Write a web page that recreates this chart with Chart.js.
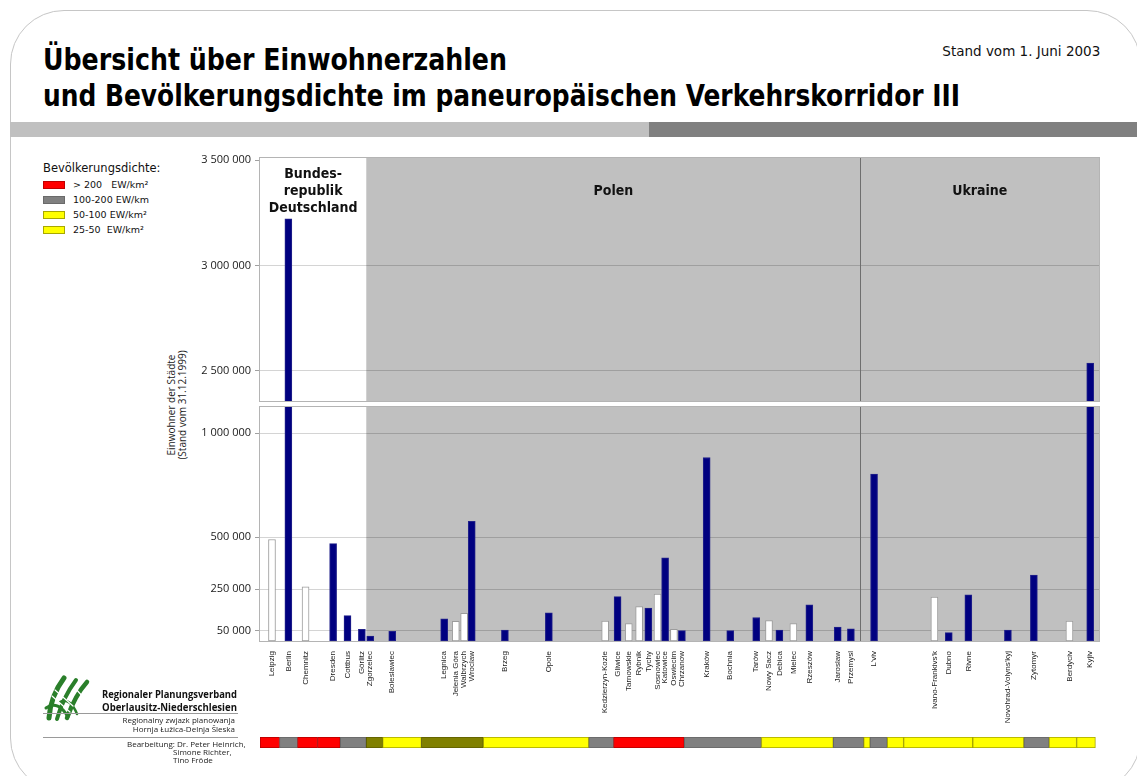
<!DOCTYPE html>
<html lang="de">
<head>
<meta charset="utf-8">
<title>Übersicht über Einwohnerzahlen und Bevölkerungsdichte</title>
<script src="https://cdn.jsdelivr.net/npm/chart.js@4.4.1/dist/chart.umd.min.js"></script>
<style>
  html, body { margin: 0; padding: 0; background: #fff; }
  body { position: relative; width: 1137px; height: 776px; overflow: hidden;
         font-family: "Open Sans", "DejaVu Sans", sans-serif; color: #111; }
  .abs { position: absolute; white-space: nowrap; }
  .frame { left: 10px; top: 10px; width: 1131px; height: 782px; border: 1px solid #c6c6c6;
           border-radius: 54px; box-sizing: border-box; }
  .cond { font-family: "DejaVu Sans Condensed", "DejaVu Sans", sans-serif; }
  .title { font-weight: bold; font-size: 30px; line-height: 36px; color: #000; transform-origin: 0 50%; }
  .stand { font-size: 14px; line-height: 16px; transform-origin: 100% 50%; }
  .band { top: 122px; height: 15px; }
  canvas { position: absolute; }
  .legend-title { left: 43px; top: 159px; font-family: "DejaVu Sans", sans-serif; font-size: 11.5px; line-height: 18px; }
  .legend-item { left: 43px; font-family: "DejaVu Sans", sans-serif; font-size: 9.5px; line-height: 12px; white-space: pre; }
  .legend-item i { display: inline-block; width: 20px; height: 6px; border: 1px solid; vertical-align: middle;
                   margin-right: 8px; position: relative; top: -1px; }
  .ytitle { left: 177px; top: 405px; transform: translate(-50%, -50%) rotate(-90deg); text-align: center;
            font-size: 10px; line-height: 11px; color: #222; }
  .org { font-weight: bold; font-size: 10px; line-height: 12px; color: #111; transform-origin: 0 50%; }
  .small { font-size: 8px; line-height: 9px; color: #222; }
  .rule { height: 1px; background: #9a9a9a; left: 43px; width: 195px; }
</style>
</head>
<body>
<div class="abs frame"></div>

<div class="abs cond title" style="left:43px;top:42px" data-fit="464">Übersicht über Einwohnerzahlen</div>
<div class="abs cond title" style="left:43px;top:78px" data-fit="917">und Bevölkerungsdichte im paneuropäischen Verkehrskorridor III</div>
<div class="abs cond stand" style="right:37px;top:43px" data-fit="158">Stand vom 1. Juni 2003</div>

<div class="abs band" style="left:10px;width:639px;background:#c0c0c0"></div>
<div class="abs band" style="left:649px;width:488px;background:#808080"></div>

<div class="abs legend-title">Bevölkerungsdichte:</div>
<div class="abs legend-item" style="top:179px"><i style="background:#ff0000;border-color:#c00000"></i>&gt; 200   EW/km²</div>
<div class="abs legend-item" style="top:194px"><i style="background:#808080;border-color:#6a6a6a"></i>100-200 EW/km</div>
<div class="abs legend-item" style="top:209px"><i style="background:#ffff00;border-color:#a8a800"></i>50-100 EW/km²</div>
<div class="abs legend-item" style="top:224px"><i style="background:#ffff00;border-color:#a8a800"></i>25-50  EW/km²</div>

<div class="abs ytitle">Einwohner der Städte<br>(Stand vom 31.12.1999)</div>

<canvas id="upper" width="952" height="253" style="left:150px;top:150px"></canvas>
<canvas id="lower" width="952" height="330" style="left:150px;top:400px"></canvas>
<canvas id="strip" width="952" height="19" style="left:150px;top:733px"></canvas>

<!-- Verbandslogo -->
<svg class="abs" style="left:40px;top:672px" width="56" height="54" viewBox="0 0 56 54">
  <g fill="none" stroke="#2a7f2a" stroke-linecap="round">
    <path d="M9 46 C10 32 15 18 24 6" stroke-width="5"/>
    <path d="M17 47 C21 33 27 20 36 8" stroke-width="4"/>
    <path d="M27 46 C32 32 38 20 47 10" stroke-width="4.5"/>
    <path d="M6 36 C14 30 22 34 28 45" stroke-width="3"/>
    <path d="M20 30 C27 26 33 32 37 42" stroke-width="2.5"/>
    <path d="M12 24 L30 40 M15 18 L33 34 M35 16 L44 26" stroke="#fff" stroke-width="1.2"/>
  </g>
</svg>
<div class="abs org" style="left:102px;top:688px" data-fit="135">Regionaler Planungsverband</div>
<div class="abs org" style="left:102px;top:701px" data-fit="135">Oberlausitz-Niederschlesien</div>
<div class="abs rule" style="top:713px"></div>
<div class="abs small" style="right:902px;top:715px">Regionalny zwjazk planowanja</div>
<div class="abs small" style="right:902px;top:724px">Hornja Łužica-Delnja Šleska</div>
<div class="abs rule" style="top:737px"></div>
<div class="abs small" style="left:127px;top:739px">Bearbeitung: Dr. Peter Heinrich,</div>
<div class="abs small" style="left:173px;top:747px">Simone Richter,</div>
<div class="abs small" style="left:173px;top:755px">Tino Fröde</div>

<script>
// Städte entlang des Korridors, von West nach Ost
const cities = ['Leipzig', 'Berlin', 'Chemnitz', 'Dresden', 'Cottbus', 'Görlitz', 'Zgorzelec', 'Boleslawiec',
  'Legnica', 'Jelenia Góra', 'Walbrzych', 'Wroclaw', 'Brzeg', 'Opole', 'Kedzierzyn-Kozle', 'Gliwice',
  'Tarnowskie', 'Rybnik', 'Tychy', 'Sosnowiec', 'Katowice', 'Oswiecim', 'Chrzanow', 'Kraków', 'Bochnia',
  'Tarów', 'Nowy Sacz', 'Debica', 'Mielec', 'Rzeszów', 'Jaroslaw', 'Przemysl', "L'viv", "Ivano-Frankivs'k",
  'Dubno', 'Rivne', "Novohrad-Volyns'kyj", 'Zytomyr', 'Berdyciv', 'Kyjiv'];

// Lage der Städte auf der schematischen Korridorachse (0 … 210)
const corridorPos = [3.0, 7.1, 11.4, 18.3, 21.9, 25.5, 27.6, 33.1, 46.1, 49.0, 51.1, 53.0, 61.3, 72.3,
  86.4, 89.5, 92.3, 94.9, 97.2, 99.5, 101.4, 103.6, 105.6, 111.8, 117.7, 124.2, 127.4, 130.0, 133.5,
  137.5, 144.6, 147.9, 153.7, 168.8, 172.4, 177.3, 187.2, 193.7, 202.6, 207.8];

// Einwohner (Stand 31.12.1999)
const population = [488000, 3222000, 261000, 468000, 122000, 56000, 24000, 46000, 107000, 95000,
  133000, 575000, 53000, 135000, 96000, 213000, 84000, 165000, 158000, 225000, 400000, 56000, 50000,
  882000, 50000, 113000, 98000, 53000, 84000, 174000, 67000, 58000, 802000, 211000, 40000, 222000,
  53000, 317000, 96000, 2537000];

// dunkle Säule = Stadt an der Hauptachse, helle Säule = Stadt daneben
const mainCity = [false, true, false, true, true, true, true, true, true, false, false, true, true, true,
  false, true, false, false, true, false, true, false, true, true, true, true, false, true, false, true,
  true, true, true, false, true, true, true, true, false, true];

// Staaten und ihre Grenzen auf der Korridorachse
const countries = [['Bundes-', 'republik', 'Deutschland'], ['Polen'], ['Ukraine']];
const countryBounds = [0, 26.6, 150.3, 210];

// Achsenbeschriftung der beiden Teilbereiche (unterbrochene Achse)
const upperTicks = [2500000, 3000000, 3500000];
const lowerTicks = [50000, 250000, 500000, 1000000];

// Bevölkerungsdichte entlang des Korridors
const densityBounds = [0, 4.9, 9.4, 14.4, 20.1, 26.6, 30.7, 40.4, 55.9, 82.3, 88.5, 106.2, 125.5,
  143.5, 151.1, 152.7, 157.0, 161.1, 178.4, 191.2, 197.5, 204.4, 209.1];
const densityClass = ['>200', '100-200', '>200', '>200', '100-200', '50-100', '25-50', '50-100', '25-50',
  '100-200', '>200', '100-200', '25-50', '100-200', '25-50', '100-200', '25-50', '25-50', '25-50',
  '100-200', '25-50', '25-50'];

// ---- Darstellung ----
const AXIS_MIN = 0, AXIS_MAX = 210;
const UPPER_MIN = 2357500, UPPER_MAX = 3511000, LOWER_MAX = 1125000;
const Y_AXIS_WIDTH = 110;
const NAVY = '#000080';
const zoneFill = ['#ffffff', '#c0c0c0', '#c0c0c0'];
const densityFill = { '>200': '#ff0000', '100-200': '#808080', '50-100': '#808000', '25-50': '#ffff00' };
const densityEdge = { '>200': '#b00000', '100-200': '#666666', '50-100': '#5c5c00', '25-50': '#a4a400' };
const tickFont = { family: '"Open Sans", "DejaVu Sans", sans-serif', size: 11 };
const nameFont = { family: '"Liberation Sans", Arial, sans-serif', size: 8 };
const zoneFont = 'bold 14px "DejaVu Sans Condensed", "DejaVu Sans", sans-serif';

const fmt = v => String(v).replace(/\B(?=(\d{3})+(?!\d))/g, ' ');

// fit headline texts to their set widths
document.querySelectorAll('[data-fit]').forEach(el => {
  const w = el.getBoundingClientRect().width;
  el.style.transform = 'scaleX(' + (Number(el.dataset.fit) / w) + ')';
});

// backgrounds of the country zones, separators and plot frame
const zonesPlugin = {
  id: 'zones',
  beforeDraw(chart) {
    const { ctx, chartArea: a, scales: { x } } = chart;
    ctx.save();
    for (let i = 0; i < countries.length; i++) {
      const x0 = x.getPixelForValue(countryBounds[i]);
      const x1 = x.getPixelForValue(countryBounds[i + 1]);
      ctx.fillStyle = zoneFill[i];
      ctx.fillRect(x0, a.top, x1 - x0, a.bottom - a.top);
    }
    ctx.restore();
  },
  beforeDatasetsDraw(chart) {
    const { ctx, chartArea: a, scales: { x } } = chart;
    ctx.save();
    ctx.lineWidth = 1;
    ctx.strokeStyle = '#6e6e6e';
    for (let i = 1; i < countries.length; i++) {
      if (zoneFill[i] !== zoneFill[i - 1]) continue;
      const px = Math.round(x.getPixelForValue(countryBounds[i])) + 0.5;
      ctx.beginPath();
      ctx.moveTo(px, a.top);
      ctx.lineTo(px, a.bottom);
      ctx.stroke();
    }
    ctx.strokeStyle = '#b4b4b4';
    ctx.strokeRect(a.left - 0.5, a.top - 0.5, a.right - a.left + 1, a.bottom - a.top + 1);
    ctx.restore();
  }
};

// country names at the top of the upper panel
const countryNamesPlugin = {
  id: 'countryNames',
  afterDatasetsDraw(chart) {
    const { ctx, chartArea: a, scales: { x } } = chart;
    ctx.save();
    ctx.font = zoneFont;
    ctx.fillStyle = '#111';
    ctx.textAlign = 'center';
    ctx.textBaseline = 'middle';
    const lineH = 17, centerY = a.top + 33;
    countries.forEach((lines, i) => {
      const cx = (x.getPixelForValue(countryBounds[i]) + x.getPixelForValue(countryBounds[i + 1])) / 2;
      const y0 = centerY - (lines.length - 1) * lineH / 2;
      lines.forEach((t, k) => ctx.fillText(t, cx, y0 + k * lineH));
    });
    ctx.restore();
  }
};

function yScale(min, max, ticks, noGrid) {
  return {
    type: 'linear', min, max,
    afterBuildTicks: s => { s.ticks = ticks.map(value => ({ value })); },
    afterFit: s => { s.width = Y_AXIS_WIDTH; s.paddingTop = 0; s.paddingBottom = 0; },
    border: { display: false },
    grid: {
      color: c => (c.tick && noGrid.includes(c.tick.value)) ? 'rgba(0,0,0,0)' : 'rgba(0,0,0,0.17)',
      tickColor: '#a0a0a0', tickLength: 5, drawTicks: true
    },
    ticks: { color: '#1a1a1a', padding: 4, font: tickFont, callback: v => fmt(v) }
  };
}

const barColors = mainCity.map(m => m ? NAVY : '#ffffff');
const barEdges = mainCity.map(m => m ? '#22228a' : '#9c9c9c');

function barDataset(values) {
  return {
    data: corridorPos.map((p, i) => ({ x: p, y: values[i] })),
    backgroundColor: barColors,
    borderColor: barEdges,
    borderWidth: 1,
    borderSkipped: false,
    barThickness: 7,
    clip: 0
  };
}

const common = {
  responsive: false,
  animation: false,
  events: [],
  plugins: { legend: { display: false }, tooltip: { enabled: false } }
};

// oberer Teil: Großstädte über 2,35 Mio. Einwohner
new Chart(document.getElementById('upper'), {
  type: 'bar',
  data: { datasets: [barDataset(population.map(v => v > UPPER_MIN ? v : null))] },
  options: {
    ...common,
    layout: { padding: { top: 8, right: 3, bottom: 2, left: 0 } },
    scales: {
      x: { type: 'linear', min: AXIS_MIN, max: AXIS_MAX, offset: false, display: false },
      y: yScale(UPPER_MIN, UPPER_MAX, upperTicks, [3500000])
    }
  },
  plugins: [zonesPlugin, countryNamesPlugin]
});

// unterer Teil: 0 bis 1,1 Mio. Einwohner, mit Städtenamen
new Chart(document.getElementById('lower'), {
  type: 'bar',
  data: { datasets: [barDataset(population)] },
  options: {
    ...common,
    layout: { padding: { top: 7, right: 3, bottom: 0, left: 0 } },
    scales: {
      x: {
        type: 'linear', min: AXIS_MIN, max: AXIS_MAX, offset: false,
        afterBuildTicks: s => { s.ticks = corridorPos.map(value => ({ value })); },
        afterFit: s => { s.height = 89; s.paddingLeft = 0; s.paddingRight = 0; },
        grid: { display: false, drawTicks: false },
        border: { display: false },
        ticks: {
          autoSkip: false, minRotation: 90, maxRotation: 90, padding: 10,
          color: '#222', font: nameFont,
          callback: (v, i) => cities[i]
        }
      },
      y: yScale(0, LOWER_MAX, lowerTicks, [])
    }
  },
  plugins: [zonesPlugin]
});

// Band der Bevölkerungsdichte
new Chart(document.getElementById('strip'), {
  type: 'bar',
  data: {
    labels: ['Dichte'],
    datasets: [{
      data: densityClass.map((c, i) => ({ y: 'Dichte', x: [densityBounds[i], densityBounds[i + 1]] })),
      backgroundColor: densityClass.map(c => densityFill[c]),
      borderColor: densityClass.map(c => densityEdge[c]),
      borderWidth: 1,
      borderSkipped: false,
      barPercentage: 1,
      categoryPercentage: 1
    }]
  },
  options: {
    ...common,
    indexAxis: 'y',
    layout: { padding: { top: 4, right: 3, bottom: 4, left: Y_AXIS_WIDTH } },
    scales: {
      x: { type: 'linear', min: AXIS_MIN, max: AXIS_MAX, display: false },
      y: { display: false }
    }
  }
});
</script>
</body>
</html>
